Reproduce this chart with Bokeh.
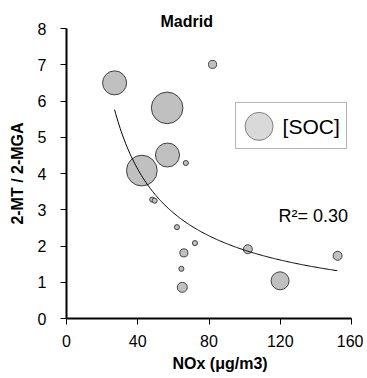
import numpy as np
from bokeh.plotting import figure
from bokeh.models import Range1d, FixedTicker, ColumnDataSource, Label, BoxAnnotation, Title
from bokeh.embed import file_html
from bokeh.resources import INLINE

# ---- data ----
nox = [27, 82, 56.5, 42.3, 56.7, 67, 48.1, 49.5, 62, 72.1, 65.9, 101.8, 152.2, 64.5, 65, 119.9]
ratio = [6.50, 7.01, 5.81, 4.08, 4.51, 4.29, 3.28, 3.25, 2.52, 2.08, 1.81, 1.91, 1.73, 1.37, 0.86, 1.04]
soc = [1.78, 0.20, 3.08, 2.91, 1.78, 0.08, 0.08, 0.08, 0.08, 0.08, 0.20, 0.25, 0.25, 0.08, 0.31, 1.00]
x_ticks = [0, 40, 80, 120, 160]
y_ticks = [0, 1, 2, 3, 4, 5, 6, 7, 8]
# power-law fit y = a * x^b shown in the chart
fit_a = 95.8
fit_b = -0.853
fit_x_min, fit_x_max = 27, 152
r2_text = "R\u00b2= 0.30"

FONT = "Liberation Sans"
SIZE_K = 18.0

p = figure(width=363, height=378, output_backend="svg", toolbar_location=None,
           x_range=Range1d(0, 160), y_range=Range1d(0, 8),
           min_border_left=66, min_border_right=12, min_border_top=28, min_border_bottom=60)
p.outline_line_color = None
p.xgrid.visible = False
p.ygrid.visible = False

p.title.text = "Madrid"
p.title.align = "left"
p.title.offset = 94
p.title.text_font = FONT
p.title.text_font_size = "16px"
p.title.text_font_style = "bold"
p.title.text_color = "black"
p.title.standoff = -3

sizes = [SIZE_K * np.sqrt(s) for s in soc]
src = ColumnDataSource(dict(x=nox, y=ratio, size=sizes))
p.scatter("x", "y", size="size", source=src, marker="circle",
          fill_color="#c0c0c0", line_color="#404040", line_width=1)

fx = np.linspace(fit_x_min, fit_x_max, 200)
fy = fit_a * fx ** fit_b
p.line(fx, fy, line_color="black", line_width=1)

for ax in (p.xaxis[0], p.yaxis[0]):
    ax.axis_line_width = 2
    ax.axis_line_color = "black"
    ax.major_tick_in = 0
    ax.major_tick_out = 6
    ax.major_tick_line_color = "black"
    ax.minor_tick_line_color = None
    ax.major_label_text_font = FONT
    ax.major_label_text_font_size = "16px"
    ax.major_label_text_color = "black"
    ax.axis_label_text_font = FONT
    ax.axis_label_text_font_size = "16px"
    ax.axis_label_text_font_style = "bold"
    ax.axis_label_text_color = "black"

p.xaxis.ticker = FixedTicker(ticks=x_ticks)
p.yaxis.ticker = FixedTicker(ticks=y_ticks)
p.xaxis.major_label_standoff = 10
p.yaxis.major_label_standoff = 14
p.yaxis.axis_label = "2-MT / 2-MGA"
p.yaxis.axis_label_standoff = 9

# x-axis label (offset to the right as in the reference)
p.add_layout(Title(text="NOx (\u03bcg/m3)", align="left", offset=106, text_font=FONT,
                   text_font_size="16px", text_font_style="bold", text_color="black",
                   vertical_align="top", standoff=10), "below")

# R^2
p.add_layout(Label(x=119, y=2.84, text=r2_text, text_font=FONT,
                   text_font_size="18px", text_align="left",
                   text_baseline="middle", text_color="black"))

# legend box
p.add_layout(BoxAnnotation(left=94.9, right=157.2, bottom=4.69, top=5.96,
                           fill_color="white", fill_alpha=1.0,
                           line_color="black", line_width=1, level="annotation"))
legend_src = ColumnDataSource(dict(x=[108.1], y=[5.30]))
p.scatter("x", "y", source=legend_src, size=28, marker="circle",
          fill_color="#d9d9d9", line_color="#808080", line_width=1, level="overlay")
p.add_layout(Label(x=121.3, y=5.30, text="[SOC]", text_font=FONT,
                   text_font_size="21px", text_align="left",
                   text_baseline="middle", text_color="black", level="overlay"))

open("out.html", "w").write(file_html(p, INLINE))
